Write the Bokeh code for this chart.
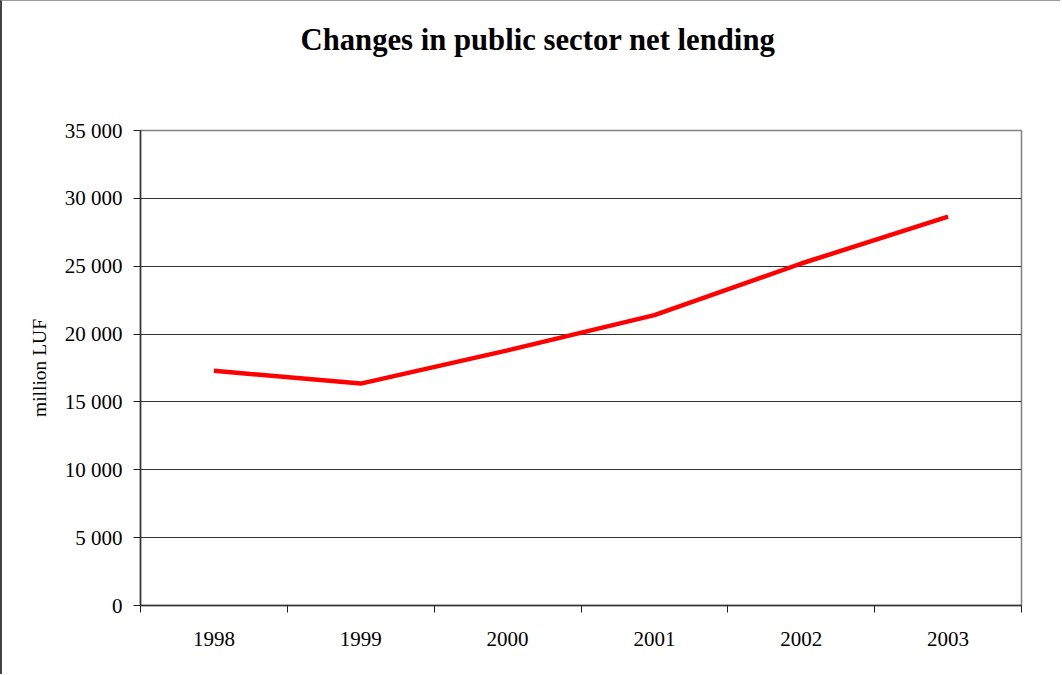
from bokeh.plotting import figure
from bokeh.models import FixedTicker, LinearAxis, Title, Range1d, FactorRange
from bokeh.embed import file_html
from bokeh.resources import INLINE

# ---- data ----
years = ["1998", "1999", "2000", "2001", "2002", "2003"]
net_lending = [17300, 16350, 18800, 21400, 25200, 28650]
y_ticks = [0, 5000, 10000, 15000, 20000, 25000, 30000, 35000]
title_text = "Changes in public sector net lending"
y_label = "million LUF"

SERIF = "Liberation Serif"

p = figure(
    width=1060, height=674,
    x_range=FactorRange(*years), y_range=Range1d(0, 35000),
    output_backend="svg", toolbar_location=None,
    x_axis_location=None, y_axis_location=None,
    min_border_left=138, min_border_right=41,
    min_border_top=129, min_border_bottom=70,
)
p.background_fill_color = "white"
p.border_fill_color = "white"
p.outline_line_color = "#808080"
p.outline_line_width = 1.5

# spacer panel between frame and title, then the title itself
p.add_layout(Title(text=" ", text_font_size="1px", standoff=71), "above")
t = Title(text=title_text, align="left", offset=160, standoff=0,
          text_font=SERIF, text_font_style="bold", text_font_size="30.7px",
          text_color="black")
p.add_layout(t, "above")

# x axis: labels at category centres, tick marks at category boundaries
n = len(years)
xaxis = LinearAxis(
    ticker=FixedTicker(ticks=[i + 0.5 for i in range(n)],
                       minor_ticks=[float(i) for i in range(n + 1)]),
    major_label_overrides={i + 0.5: yr for i, yr in enumerate(years)},
)
xaxis.major_tick_out = 0
xaxis.major_tick_in = 0
xaxis.minor_tick_out = 7
xaxis.minor_tick_in = 0
xaxis.minor_tick_line_color = "#222222"
xaxis.axis_line_color = "#333333"
xaxis.axis_line_width = 1.5
xaxis.major_label_standoff = 19
xaxis.major_label_text_font = SERIF
xaxis.major_label_text_font_size = "21px"
xaxis.major_label_text_color = "black"
p.add_layout(xaxis, "below")

# y axis
yaxis = LinearAxis(
    ticker=FixedTicker(ticks=y_ticks, minor_ticks=[]),
    major_label_overrides={v: f"{v:,}".replace(",", " ") for v in y_ticks},
    axis_label=y_label,
)
yaxis.major_tick_out = 7
yaxis.major_tick_in = 0
yaxis.minor_tick_out = 0
yaxis.minor_tick_in = 0
yaxis.major_tick_line_color = "#222222"
yaxis.axis_line_color = "#333333"
yaxis.axis_line_width = 1.5
yaxis.major_label_standoff = 11
yaxis.major_label_text_font = SERIF
yaxis.major_label_text_font_size = "21px"
yaxis.major_label_text_color = "black"
yaxis.axis_label_text_font = SERIF
yaxis.axis_label_text_font_style = "normal"
yaxis.axis_label_text_font_size = "19.5px"
yaxis.axis_label_text_color = "black"
yaxis.axis_label_standoff = 12
p.add_layout(yaxis, "left")

p.xgrid.visible = False
p.ygrid.ticker = FixedTicker(ticks=y_ticks[1:-1], minor_ticks=[])
p.ygrid.grid_line_color = "#303030"
p.ygrid.grid_line_width = 1

p.line(x=years, y=net_lending, line_color="#ff0000", line_width=4.5)

p.styles = {"border-left": "2px solid #444444", "border-top": "1px solid #999999"}

open("out.html", "w").write(file_html(p, INLINE))
